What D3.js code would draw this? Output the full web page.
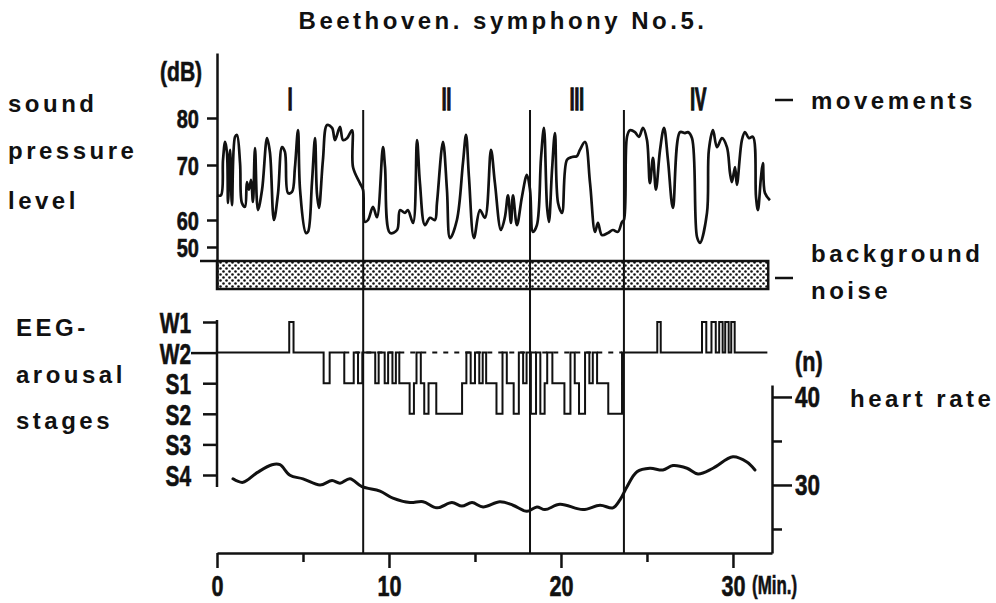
<!DOCTYPE html>
<html>
<head>
<meta charset="utf-8">
<script src="https://cdnjs.cloudflare.com/ajax/libs/d3/7.8.5/d3.min.js"></script>
<style>
body { margin: 0; background: #fff; }
svg { display: block; }
.lbl { font-family: "Liberation Sans", Arial, sans-serif; font-weight: bold; font-size: 24px; letter-spacing: 3.5px; fill: #111; }
.num { font-family: "Liberation Sans", Arial, sans-serif; font-weight: bold; fill: #111; stroke: #111; stroke-width: 0.6px; }
.axis path, .axis line { stroke: #111; stroke-width: 2.5px; }
</style>
</head>
<body>
<svg id="graph" width="996" height="603"></svg>
<script>
// ---- data ----
// sound pressure level (minutes, dB)
var splTime = [0, 0.23, 0.35, 0.47, 0.58, 0.64, 0.76, 0.87, 1.05, 1.16, 1.34, 1.45, 1.63, 1.74, 1.86, 1.98, 2.09, 2.21, 2.38, 2.62,
  2.91, 3.08, 3.31, 3.55, 3.78, 3.95, 4.13, 4.36, 4.53, 4.71, 4.83, 5.17, 5.29, 5.52, 5.70, 5.81, 5.93, 6.16, 6.40, 6.69,
  6.86, 7.15, 7.33, 7.56, 7.85, 7.91, 8.31, 8.49, 8.60, 8.78, 9.07, 9.30, 9.65, 9.77, 10.06, 10.47, 10.64, 10.93, 11.10, 11.40,
  11.63, 11.80, 12.09, 12.38, 12.67, 12.79, 13.14, 13.37, 13.55, 13.95, 14.30, 14.48, 14.65, 14.94, 15.29, 15.58, 15.93, 16.16, 16.51, 16.74,
  16.92, 17.09, 17.21, 17.44, 17.73, 18.02, 18.20, 18.37, 18.60, 18.84, 19.01, 19.19, 19.30, 19.48, 19.65, 19.83, 20.06, 20.35, 20.64, 20.93,
  21.10, 21.40, 21.69, 21.98, 22.15, 22.38, 22.73, 23.02, 23.31, 23.55, 23.66, 23.84, 24.01, 24.30, 24.53, 24.77, 25.00, 25.17, 25.35, 25.52,
  25.76, 25.99, 26.22, 26.51, 26.92, 27.21, 27.38, 27.62, 27.91, 28.08, 28.49, 28.60, 28.84, 29.07, 29.36, 29.65, 29.83, 29.94, 30.12, 30.23,
  30.52, 30.70, 30.93, 31.16, 31.34, 31.45, 31.63, 31.74, 31.86, 32.15];
var splDb = [64.5, 64.5, 71.1, 74.9, 72.6, 63.1, 73.2, 62.7, 76.0, 76.4, 70.4, 63.1, 62.4, 66.9, 65.5, 67.3, 63.3, 73.6, 61.8, 65.5,
  75.7, 72.6, 60.0, 64.9, 73.8, 72.8, 64.9, 65.1, 69.5, 77.4, 65.5, 55.2, 55.6, 66.7, 75.7, 64.9, 62.2, 71.1, 78.5, 77.9,
  75.3, 78.1, 75.3, 75.7, 77.4, 69.6, 66.7, 65.5, 59.3, 60.0, 62.4, 60.5, 73.8, 69.6, 55.2, 56.3, 61.8, 61.3, 61.8, 58.9,
  75.3, 66.7, 58.1, 60.4, 60.0, 63.1, 74.9, 65.5, 53.3, 60.0, 70.4, 76.4, 67.8, 53.3, 61.8, 60.4, 73.2, 66.7, 56.3, 60.5,
  64.5, 58.9, 64.5, 58.1, 64.2, 68.2, 65.5, 55.6, 58.1, 71.5, 77.9, 62.4, 59.3, 69.1, 76.8, 63.1, 61.3, 71.1, 71.7, 71.9,
  73.2, 74.9, 66.7, 55.6, 58.9, 54.4, 55.2, 56.3, 55.6, 59.3, 60.0, 76.0, 77.4, 77.0, 76.0, 77.9, 75.3, 66.7, 71.5, 65.5,
  73.2, 77.9, 71.1, 62.2, 77.0, 76.8, 77.0, 75.7, 53.7, 51.5, 61.3, 73.2, 77.4, 73.8, 75.7, 73.8, 68.5, 66.9, 69.6, 66.4,
  75.3, 77.0, 75.7, 76.0, 64.2, 61.8, 67.8, 70.4, 64.9, 63.6];

// background noise band (dB)
var noiseBand = [34.4, 44.8];

// EEG arousal stages (step changes: minute, stage)
var stageNames = ["W1", "W2", "S1", "S2", "S3", "S4"];
var hypTime = [0, 4.2, 4.45, 6.2, 6.55, 7.4, 7.95, 8.2, 8.45, 9.2,
  9.4, 9.75, 9.95, 10.2, 10.4, 10.6, 11.2, 11.45, 11.6, 11.85,
  12.05, 12.3, 12.75, 14.25, 14.5, 14.75, 15.0, 15.25, 15.45, 15.65,
  16.25, 16.6, 16.85, 17.25, 17.55, 17.8, 18.0, 18.25, 18.55, 18.8,
  19.05, 19.2, 19.5, 20.2, 20.55, 20.8, 21.05, 21.4, 21.65, 21.85,
  22.1, 22.75, 23.55, 25.6, 25.8, 28.2, 28.45, 28.75, 29.0, 29.2,
  29.4, 29.55, 29.75, 29.9, 30.1, 32.0];
var hypStage = ["W2", "W1", "W2", "S1", "W2", "S1", "W2", "S1", "W2", "S1",
  "W2", "S1", "W2", "S1", "W2", "S1", "S2", "S1", "W2", "S1",
  "S2", "S1", "S2", "S1", "W2", "S1", "W2", "S1", "W2", "S1",
  "S2", "W2", "S1", "S2", "W2", "S1", "W2", "S2", "W2", "S2",
  "S1", "W2", "S1", "S2", "W2", "S1", "S2", "W2", "S1", "W2",
  "S1", "S2", "W2", "W1", "W2", "W1", "W2", "W1", "W2", "W1",
  "W2", "W1", "W2", "W1", "W2", "W2"];
// top of the wake bursts, drawn dashed
var wakeDash = [7.4, 23.55];

// heart rate (minute, beats)
var hrTime = [0.93, 1.51, 2.33, 3.20, 3.66, 4.24, 5.0, 5.99, 6.69, 7.15, 7.73, 8.43, 9.48, 10.23, 11.22, 11.98, 12.79, 13.66, 14.24, 14.83,
  15.47, 16.45, 17.21, 18.02, 18.60, 19.07, 19.94, 21.28, 22.27, 23.02, 23.43, 23.84, 24.42, 25.17, 25.93, 26.51, 27.33, 27.97, 28.84, 30.0,
  30.81, 31.28];
var hrRate = [30.7, 30.3, 31.4, 32.3, 32.3, 31.1, 30.7, 30.0, 30.5, 30.2, 30.7, 29.8, 29.3, 28.5, 28.0, 28.1, 27.4, 28.0, 27.6, 28.0,
  27.5, 28.1, 27.7, 27.0, 27.5, 27.2, 27.8, 27.2, 27.7, 27.4, 28.3, 29.8, 31.5, 31.9, 31.7, 32.2, 31.9, 31.25, 31.9, 33.2,
  32.6, 31.7];

// movements
var movementNames = ["I", "II", "III", "IV"];
var movementBounds = [0, 8.5, 18.2, 23.66, 32.3];

// ticks
var dbTicks = [50, 60, 70, 80];
var minTicks = [0, 5, 10, 15, 20, 25, 30];
var minLabels = [0, 10, 20, 30];
var hrTicks = [25, 30, 35, 40];
var hrLabels = [30, 40];

// ---- drawing ----
var svg = d3.select("#graph");

var x = d3.scaleLinear().domain([0, 32.27]).range([217, 772]);
var yDb = d3.scaleLinear().domain([34.4, 50, 60, 70, 80, 93.8]).range([289, 247, 220, 165, 118, 53]);
var yStage = d3.scalePoint().domain(stageNames).range([322, 475]);
var yHr = d3.scaleLinear().domain([22.27, 41.36]).range([553, 385]);

var ink = "#111";

// squeeze a text selection horizontally (the figure uses a condensed face)
function narrow(sel, k) {
  sel.each(function() {
    var w = this.getComputedTextLength();
    d3.select(this).attr("textLength", w * k).attr("lengthAdjust", "spacingAndGlyphs");
  });
}

// dotted pattern for background noise
var pat = svg.append("defs").append("pattern")
  .attr("id", "dots").attr("patternUnits", "userSpaceOnUse")
  .attr("width", 6).attr("height", 6);
pat.append("rect").attr("width", 6).attr("height", 6).attr("fill", "#fff");
pat.append("circle").attr("cx", 1.5).attr("cy", 1.5).attr("r", 1.3).attr("fill", ink);
pat.append("circle").attr("cx", 4.5).attr("cy", 4.5).attr("r", 1.3).attr("fill", ink);

// title
svg.append("text").attr("class", "lbl")
  .attr("x", 503).attr("y", 29).attr("text-anchor", "middle")
  .text("Beethoven. symphony No.5.");

// left hand labels
var leftLabels = [["sound", 8, 112], ["pressure", 8, 159], ["level", 8, 209],
                  ["EEG-", 16, 336], ["arousal", 16, 383], ["stages", 16, 429]];
svg.selectAll("text.left").data(leftLabels).enter().append("text")
  .attr("class", "lbl left")
  .attr("x", function(d) { return d[1]; })
  .attr("y", function(d) { return d[2]; })
  .text(function(d) { return d[0]; });

// noise band
svg.append("rect")
  .attr("x", x(0)).attr("y", yDb(noiseBand[1]))
  .attr("width", x(32.05) - x(0)).attr("height", yDb(noiseBand[0]) - yDb(noiseBand[1]))
  .attr("fill", "url(#dots)").attr("stroke", ink).attr("stroke-width", 2.5);
svg.append("line")
  .attr("x1", 200).attr("x2", x(0))
  .attr("y1", yDb(noiseBand[1])).attr("y2", yDb(noiseBand[1]))
  .attr("stroke", ink).attr("stroke-width", 2.5);

// dB axis
var dbAxis = svg.append("g").attr("class", "axis")
  .attr("transform", "translate(" + x(0) + ",0)")
  .call(d3.axisLeft(yDb).tickValues(dbTicks).tickSize(10).tickSizeOuter(0).tickFormat(d3.format("d")));
dbAxis.selectAll("text").attr("class", "num").attr("font-size", 25).attr("x", -18).attr("dy", "0.36em");
narrow(dbAxis.selectAll("text"), 0.8);
var dbUnit = svg.append("text").attr("class", "num").attr("font-size", 27)
  .attr("x", 160).attr("y", 81).text("(dB)");
narrow(dbUnit, 0.78);

// movement boundaries
svg.selectAll("line.mv").data(movementBounds.slice(1, 4)).enter().append("line")
  .attr("x1", function(d) { return x(d); }).attr("x2", function(d) { return x(d); })
  .attr("y1", 110).attr("y2", 553)
  .attr("stroke", ink).attr("stroke-width", 2);

var mv = svg.selectAll("text.mvname").data(movementNames).enter().append("text")
  .attr("class", "num mvname").attr("font-size", 31)
  .attr("text-anchor", "middle")
  .attr("x", function(d, i) { return x((movementBounds[i] + movementBounds[i + 1]) / 2); })
  .attr("y", 110)
  .style("stroke-width", "1.4px")
  .text(function(d) { return d; });
narrow(mv, 0.55);

// sound pressure curve
var splLine = d3.line()
  .curve(d3.curveCatmullRom.alpha(0.5))
  .x(function(d) { return x(d[0]); })
  .y(function(d) { return yDb(d[1]); });
svg.append("path")
  .datum(d3.zip(splTime, splDb))
  .attr("d", splLine)
  .attr("fill", "none").attr("stroke", ink).attr("stroke-width", 2.7)
  .attr("stroke-linejoin", "round");

// right labels
svg.append("line").attr("x1", 775).attr("x2", 793).attr("y1", 100).attr("y2", 100)
  .attr("stroke", ink).attr("stroke-width", 2.5);
svg.append("text").attr("class", "lbl").attr("x", 811).attr("y", 109).text("movements");
svg.append("line").attr("x1", 775).attr("x2", 793).attr("y1", 278).attr("y2", 278)
  .attr("stroke", ink).attr("stroke-width", 2.5);
svg.append("text").attr("class", "lbl").attr("x", 811).attr("y", 262).text("background");
svg.append("text").attr("class", "lbl").attr("x", 811).attr("y", 299).text("noise");

// EEG stage axis
var stAxis = svg.append("g").attr("class", "axis")
  .attr("transform", "translate(" + x(0) + ",0)")
  .call(d3.axisLeft(yStage).tickSize(14).tickSizeOuter(0));
stAxis.select(".domain").attr("d", "M0,320V487");
stAxis.selectAll("text").attr("class", "num").attr("font-size", 29).attr("x", -26).attr("dy", "0.36em");
stAxis.selectAll(".tick").filter(function(d) { return d === "W2"; })
  .select("line").attr("x2", -26);
narrow(stAxis.selectAll("text"), 0.72);

// dashed wake ceiling
svg.append("line")
  .attr("x1", x(wakeDash[0])).attr("x2", x(wakeDash[1]))
  .attr("y1", yStage("W2")).attr("y2", yStage("W2"))
  .attr("stroke", ink).attr("stroke-width", 2).attr("stroke-dasharray", "5,6");

// hypnogram
var hypLine = d3.line()
  .curve(d3.curveStepAfter)
  .x(function(d) { return x(d[0]); })
  .y(function(d) { return yStage(d[1]); });
svg.append("path")
  .datum(d3.zip(hypTime, hypStage))
  .attr("d", hypLine)
  .attr("fill", "none").attr("stroke", ink).attr("stroke-width", 2);

// heart rate
var hrLine = d3.line()
  .curve(d3.curveCatmullRom)
  .x(function(d) { return x(d[0]); })
  .y(function(d) { return yHr(d[1]); });
svg.append("path")
  .datum(d3.zip(hrTime, hrRate))
  .attr("d", hrLine)
  .attr("fill", "none").attr("stroke", ink).attr("stroke-width", 3)
  .attr("stroke-linecap", "round");

// heart rate axis
var hrAxis = svg.append("g").attr("class", "axis")
  .attr("transform", "translate(" + x.range()[1] + ",0)")
  .call(d3.axisRight(yHr).tickValues(hrTicks).tickSizeOuter(0)
    .tickFormat(function(d) { return hrLabels.indexOf(d) >= 0 ? d : ""; }));
hrAxis.selectAll(".tick line").attr("x2", function(d) { return hrLabels.indexOf(d) >= 0 ? 20 : 10; });
hrAxis.selectAll(".tick text").attr("class", "num").attr("font-size", 30).attr("x", 23);
narrow(hrAxis.selectAll(".tick text"), 0.75);
var nUnit = svg.append("text").attr("class", "num").attr("font-size", 27)
  .attr("x", 795).attr("y", 371).text("(n)");
narrow(nUnit, 0.8);
svg.append("text").attr("class", "lbl").attr("x", 850).attr("y", 407).text("heart rate");

// time axis
var xAxis = svg.append("g").attr("class", "axis")
  .attr("transform", "translate(0,553)")
  .call(d3.axisBottom(x).tickValues(minTicks).tickSizeOuter(0)
    .tickFormat(function(d) { return minLabels.indexOf(d) >= 0 ? d : ""; }));
xAxis.selectAll(".tick line").attr("y2", function(d) { return minLabels.indexOf(d) >= 0 ? 15 : 9; });
xAxis.selectAll(".tick text").attr("class", "num").attr("font-size", 30).attr("y", 22);
narrow(xAxis.selectAll(".tick text"), 0.72);
var minUnit = svg.append("text").attr("class", "num").attr("font-size", 26)
  .attr("x", 752).attr("y", 594).text("(Min.)");
narrow(minUnit, 0.65);
</script>
</body>
</html>
